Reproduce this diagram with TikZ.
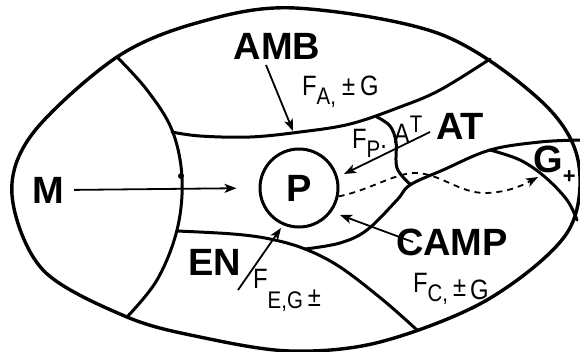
\documentclass[tikz,border=0pt]{standalone}
\usepackage{fontspec}
\setmainfont{Liberation Sans}
\newfontfamily\thinfont[FakeStretch=0.85]{Liberation Sans}
\usetikzlibrary{positioning,arrows.meta}
\newcommand{\lsub}[1]{\smash{\raisebox{-9pt}{\fontsize{24}{24}\selectfont #1}}}

\begin{document}
\begin{tikzpicture}[x=1pt,y=-1pt,
    region/.style={line width=3pt, line cap=round, line join=round},
    flow/.style={line width=1.8pt, -{Stealth[length=12pt,width=9pt,inset=3pt]}},
    big/.style={font=\fontsize{38}{38}\selectfont\bfseries, inner sep=0pt},
    small/.style={font=\thinfont\fontsize{28}{28}\selectfont, inner sep=0pt, anchor=base west}]
  \useasboundingbox (0,0) rectangle (580,351);
  \draw[region, line width=3.4pt] plot[smooth cycle, tension=0.55] coordinates {
    (295,8) (440,34) (540,100) (578,160) (567,233) (487,300) (380,342) (290,351)
    (200,337) (127,317) (43,270) (12,195) (33,133) (117,57) (200,22)};
  \draw[region] plot[smooth, tension=0.6] coordinates {
    (117,57) (147,90) (172,130) (182,178) (177,230) (157,280) (127,317)};
  \draw[region] plot[smooth, tension=0.6] coordinates {
    (172,132) (200,136) (250,137) (300,132) (350,124) (400,107) (440,90) (490,59)};
  \draw[region] plot[smooth, tension=0.6] coordinates {
    (177,231) (233,234) (270,239) (305,249) (340,267) (383,300) (417,330)};
  \draw[region] plot[smooth, tension=0.6] coordinates {
    (305,249) (340,243) (367,230) (397,200) (410,185) (443,170) (490,150) (540,142) (580,140)};
  \draw[region] plot[smooth, tension=0.6] coordinates {
    (377,117) (390,126) (396,142) (397,168) (410,184)};
  \draw[region] plot[smooth, tension=0.6] coordinates {
    (490,150) (520,160) (545,177) (567,200) (577,220)};
  \fill (181,176) circle (3);

  \node[big] (m) at (48,190) {M};
  \node[big] (amb) at (277,46) {AMB};
  \node[big] (at) at (460,126) {AT};
  \node[big] (camp) at (452,242) {CAMP};
  \node[big] (en) at (215,262) {EN};
  \node[big, anchor=base west] (g) at (533,172) {G\smash{\raisebox{-11pt}{\fontsize{22}{22}\selectfont +}}};
  \node[big, draw, circle, line width=3pt, minimum size=78pt] (p) at (299,188) {P};

  \node[small] (fa) at (302,95) {F\lsub{A,}\hspace{6pt}±\hspace{5pt}G};
  \node[small] (fp) at (352,148) {F\lsub{P}.\hspace{7pt}\smash{\raisebox{5pt}{A}}\smash{\raisebox{16pt}{\fontsize{24}{24}\selectfont T}}};
  \node[small] (fc) at (413,292) {F\lsub{C,}\hspace{5pt}\smash{\raisebox{-4pt}{±}}\hspace{4pt}\smash{\raisebox{-7pt}{G}}};
  \node[small] (fe) at (253,288) {F\smash{\raisebox{-20pt}{\fontsize{24}{24}\selectfont E,G}}\hspace{5pt}\smash{\raisebox{-18pt}{±}}};

  \coordinate (ambtail) at (266,65);
  \coordinate (ambhead) at (293,131);
  \coordinate (attail) at (430,132);
  \coordinate (athead) at (344,174);
  \coordinate (camptail) at (413,242);
  \coordinate (camphead) at (340,215);
  \coordinate (entail) at (238,290);
  \coordinate (enhead) at (281,228);
  \coordinate (dashend) at (538,177);

  \draw[flow, shorten <=10pt, shorten >=22pt] (m.east) -- (p.west);
  \draw[flow] (ambtail) -- (ambhead);
  \draw[flow] (attail) -- (athead);
  \draw[flow] (camptail) -- (camphead);
  \draw[flow] (entail) -- (enhead);
  \draw[flow, dash pattern=on 6pt off 5pt] (p.-12) .. controls (370,190) and (395,173) .. (415,173)
    .. controls (440,173) and (460,194) .. (487,193) .. controls (510,192) and (525,184) .. (dashend);
\end{tikzpicture}
\end{document}
